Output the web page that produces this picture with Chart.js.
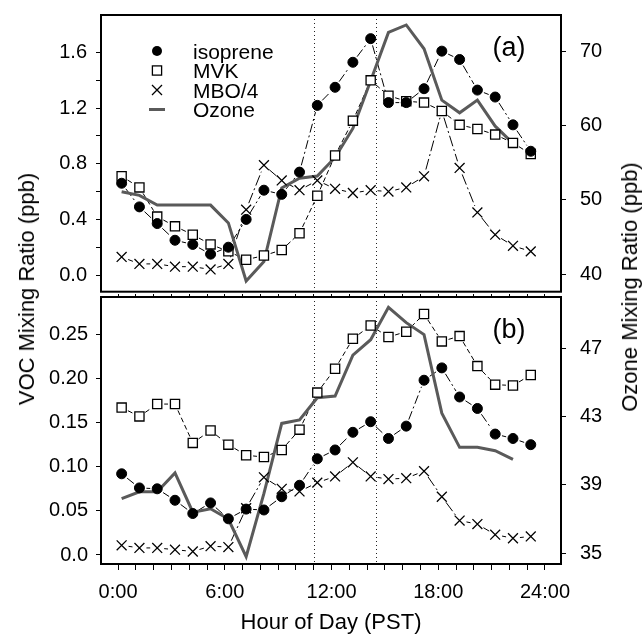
<!DOCTYPE html>
<html lang="en">
<head>
<meta charset="UTF-8" />
<title>VOC and Ozone mixing ratios by hour</title>
<script src="https://cdn.jsdelivr.net/npm/chart.js"></script>
<style>
  body { margin: 0; background: #fff; font-family: 'Liberation Sans', Arial, sans-serif; }
  #wrap { position: relative; width: 644px; height: 634px; overflow: hidden; }
  canvas { position: absolute; left: 0; }
  #chartA { top: 0; }
  #chartB { top: 287px; }
  .ytitle {
    position: absolute; font-size: 22px; color: #000; white-space: nowrap;
    transform: translate(-50%, -50%) rotate(-90deg);
  }
</style>
</head>
<body>
<div id="wrap">
  <canvas id="chartA" width="644" height="300"></canvas>
  <canvas id="chartB" width="644" height="347"></canvas>
  <div class="ytitle" style="left:27px; top:289px;">VOC Mixing Ratio (ppb)</div>
  <div class="ytitle" style="left:630px; top:287px;">Ozone Mixing Ratio (ppb)</div>
</div>

<script>
  // hour of each averaged point
  const hours = [0.2, 1.2, 2.2, 3.2, 4.2, 5.2, 6.2, 7.2, 8.2, 9.2, 10.2, 11.2,
                 12.2, 13.2, 14.2, 15.2, 16.2, 17.2, 18.2, 19.2, 20.2, 21.2, 22.2, 23.2];
  const seriesNames = ['isoprene', 'MVK', 'MBO/4', 'Ozone'];

  // panel (a)
  const isopreneA = [0.66, 0.49, 0.37, 0.25, 0.22, 0.15, 0.20, 0.40, 0.61, 0.58, 0.74, 1.22,
                     1.35, 1.53, 1.70, 1.24, 1.24, 1.34, 1.61, 1.55, 1.33, 1.28, 1.08, 0.89];
  const mvkA = [0.71, 0.63, 0.42, 0.35, 0.29, 0.22, 0.17, 0.11, 0.14, 0.18, 0.30, 0.57,
                0.86, 1.11, 1.40, 1.29, 1.25, 1.24, 1.18, 1.08, 1.05, 1.01, 0.95, 0.87];
  const mboA = [0.13, 0.08, 0.08, 0.06, 0.06, 0.04, 0.08, 0.47, 0.79, 0.68, 0.61, 0.68,
                0.62, 0.59, 0.61, 0.60, 0.63, 0.71, 1.18, 0.77, 0.45, 0.29, 0.21, 0.17];
  const ozoneA = [51.1, 50.6, 49.3, 49.3, 49.3, 49.3, 46.9, 39.1, 41.7, 51.6, 52.9, 53.2,
                  55.7, 59.6, 66.0, 72.5, 73.5, 70.3, 63.4, 61.7, 63.4, 59.9, 57.6, null];

  // panel (b)
  const isopreneB = [0.092, 0.076, 0.075, 0.062, 0.047, 0.059, 0.041, 0.052, 0.051, 0.066, 0.079, 0.109,
                     0.119, 0.139, 0.151, 0.132, 0.146, 0.198, 0.212, 0.179, 0.166, 0.137, 0.132, 0.125];
  const mvkB = [0.167, 0.157, 0.171, 0.171, 0.127, 0.141, 0.125, 0.113, 0.111, 0.119, 0.142, 0.184,
                0.211, 0.245, 0.260, 0.247, 0.253, 0.273, 0.242, 0.248, 0.214, 0.193, 0.192, 0.204];
  const mboB = [0.011, 0.008, 0.008, 0.006, 0.004, 0.010, 0.009, 0.053, 0.088, 0.075, 0.072, 0.082,
                0.089, 0.105, 0.089, 0.086, 0.087, 0.095, 0.066, 0.039, 0.035, 0.023, 0.019, 0.021];
  const ozoneB = [38.2, 38.6, 38.6, 39.7, 37.4, 37.6, 37.0, 34.8, 38.5, 42.6, 42.8, 44.1,
                  44.2, 46.6, 47.5, 49.4, 48.5, 47.8, 43.2, 41.2, 41.2, 41.0, 40.5, null];

  // axis ticks
  const hourTicks = [0, 1, 2, 3, 4, 5, 6, 7, 8, 9, 10, 11, 12, 13, 14, 15, 16, 17, 18, 19, 20, 21, 22, 23, 24];
  const vocTicksA = [0, 0.2, 0.4, 0.6, 0.8, 1.0, 1.2, 1.4, 1.6];
  const vocLabelsA = [0, 0.4, 0.8, 1.2, 1.6];
  const ozoneTicksA = [40, 50, 60, 70];
  const vocTicksB = [0, 0.05, 0.10, 0.15, 0.20, 0.25];
  const ozoneTicksB = [35, 39, 43, 47];
  const markHours = [11, 14.5];   // dotted reference lines

  Chart.defaults.font.family = "'Liberation Sans', Arial, sans-serif";
  Chart.defaults.color = '#000';

  const tickFont = { size: 20 };

  const pts = arr => hours.map((h, i) => ({ x: h, y: arr[i] }));

  function makeDatasets(iso, mvk, mbo, oz) {
    return [
      { label: seriesNames[0], data: pts(iso), yAxisID: 'yL', pointStyle: 'circle', pointRadius: 5,
        pointBackgroundColor: '#000', pointBorderColor: '#000', pointBorderWidth: 1, gapDash: [9, 3, 2, 3] },
      { label: seriesNames[1], data: pts(mvk), yAxisID: 'yL', pointStyle: 'rect', pointRadius: 6.5,
        pointBackgroundColor: '#fff', pointBorderColor: '#000', pointBorderWidth: 1.3, gapDash: [5, 3] },
      { label: seriesNames[2], data: pts(mbo), yAxisID: 'yL', pointStyle: 'crossRot', pointRadius: 7,
        pointBorderColor: '#000', pointBorderWidth: 1.3, gapDash: [11, 3, 2, 3] },
      { label: seriesNames[3], data: pts(oz), yAxisID: 'yR', showLine: true, pointRadius: 0,
        borderColor: '#5a5a5a', borderWidth: 3, spanGaps: false }
    ];
  }

  // frame, dotted marks, gapped connector lines, panel letter, legend
  const panelDeco = {
    id: 'panelDeco',
    beforeDatasetsDraw(chart) {
      const { ctx, chartArea: a, scales } = chart;
      ctx.save();
      ctx.strokeStyle = '#222';
      ctx.lineWidth = 1;
      ctx.setLineDash([1, 3]);
      markHours.forEach(h => {
        const px = Math.round(scales.x.getPixelForValue(h)) + 0.5;
        ctx.beginPath(); ctx.moveTo(px, a.top); ctx.lineTo(px, a.bottom); ctx.stroke();
      });
      ctx.strokeStyle = '#000';
      chart.data.datasets.forEach((ds, i) => {
        if (!ds.gapDash) return;
        const p = chart.getDatasetMeta(i).data;
        ctx.setLineDash(ds.gapDash);
        ctx.lineWidth = 1;
        for (let k = 1; k < p.length; k++) {
          const dx = p[k].x - p[k - 1].x, dy = p[k].y - p[k - 1].y;
          const len = Math.hypot(dx, dy), g = 7;
          if (len <= 2 * g + 3) continue;
          ctx.beginPath();
          ctx.moveTo(p[k - 1].x + dx / len * g, p[k - 1].y + dy / len * g);
          ctx.lineTo(p[k].x - dx / len * g, p[k].y - dy / len * g);
          ctx.stroke();
        }
      });
      ctx.restore();
    },
    afterDraw(chart, args, opts) {
      const { ctx, chartArea: a } = chart;
      ctx.save();
      ctx.strokeStyle = '#000';
      ctx.lineWidth = 2;
      ctx.strokeRect(a.left, a.top, a.right - a.left, a.bottom - a.top);
      ctx.fillStyle = '#000';
      ctx.font = "27px 'Liberation Sans', Arial, sans-serif";
      ctx.textAlign = 'center';
      ctx.textBaseline = 'middle';
      ctx.fillText(opts.tag, a.right - 52, a.top + 34);
      if (opts.legend) {
        const sx = a.left + 56, tx = a.left + 92;
        ctx.font = "21px 'Liberation Sans', Arial, sans-serif";
        ctx.textAlign = 'left';
        seriesNames.forEach((name, i) => {
          const y = a.top + 36 + i * 19.5;
          ctx.lineWidth = 1.3;
          ctx.strokeStyle = '#000';
          if (i === 0) { ctx.beginPath(); ctx.arc(sx, y, 5, 0, Math.PI * 2); ctx.fill(); }
          if (i === 1) { ctx.fillStyle = '#fff'; ctx.fillRect(sx - 4.6, y - 4.6, 9.2, 9.2);
                         ctx.strokeRect(sx - 4.6, y - 4.6, 9.2, 9.2); ctx.fillStyle = '#000'; }
          if (i === 2) { ctx.beginPath(); ctx.moveTo(sx - 5, y - 5); ctx.lineTo(sx + 5, y + 5);
                         ctx.moveTo(sx + 5, y - 5); ctx.lineTo(sx - 5, y + 5); ctx.stroke(); }
          if (i === 3) { ctx.strokeStyle = '#5a5a5a'; ctx.lineWidth = 3; ctx.beginPath();
                         ctx.moveTo(sx - 8, y); ctx.lineTo(sx + 8, y); ctx.stroke(); }
          ctx.fillText(name, tx, y + 2);
        });
      }
      ctx.restore();
    }
  };

  // no label overhang padding, so the plot area is set by layout only
  const noPad = s => { s.paddingTop = 0; s.paddingBottom = 0; s.paddingLeft = 0; s.paddingRight = 0; };

  function yAxis(pos, min, max, ticks, fmt, width, pad) {
    return {
      position: pos, min: min, max: max,
      afterBuildTicks: s => { s.ticks = ticks.map(v => ({ value: v })); },
      ticks: { callback: fmt, font: tickFont, color: '#000', padding: pad, autoSkip: false },
      grid: { drawOnChartArea: false, tickLength: 5, tickColor: '#000', tickWidth: 1 },
      border: { display: false },
      afterFit: s => { s.width = width; noPad(s); }
    };
  }

  const xRange = { type: 'linear', min: -0.96, max: 24.9 };

  const chartA = new Chart(document.getElementById('chartA'), {
    type: 'scatter',
    data: { datasets: makeDatasets(isopreneA, mvkA, mboA, ozoneA) },
    options: {
      responsive: false, animation: false, devicePixelRatio: 1,
      layout: { padding: { top: 15, bottom: 3, left: 0, right: 0 } },
      plugins: { legend: { display: false }, tooltip: { enabled: false },
                 panelDeco: { tag: '(a)', legend: true } },
      scales: {
        x: Object.assign({}, xRange, { display: false }),
        yL: yAxis('left', -0.12, 1.87, vocTicksA,
                  v => vocLabelsA.includes(v) ? v.toFixed(1) : '', 101, 9),
        yR: yAxis('right', 37.66, 74.84, ozoneTicksA, v => String(v), 83, 14)
      }
    },
    plugins: [panelDeco]
  });

  const chartB = new Chart(document.getElementById('chartB'), {
    type: 'scatter',
    data: { datasets: makeDatasets(isopreneB, mvkB, mboB, ozoneB) },
    options: {
      responsive: false, animation: false, devicePixelRatio: 1,
      layout: { padding: 0 },
      plugins: { legend: { display: false }, tooltip: { enabled: false },
                 panelDeco: { tag: '(b)', legend: false } },
      scales: {
        x: Object.assign({}, xRange, {
          position: 'bottom',
          afterBuildTicks: s => { s.ticks = hourTicks.map(v => ({ value: v })); },
          ticks: { callback: v => v % 6 === 0 ? v + ':00' : '', maxRotation: 0, autoSkip: false,
                   font: tickFont, color: '#000', padding: 10 },
          grid: { drawOnChartArea: false, tickLength: 6, tickColor: '#000' },
          border: { display: false },
          title: { display: true, text: 'Hour of Day (PST)', font: { size: 22 }, color: '#000',
                   padding: { top: 0, bottom: -2 } },
          afterFit: s => { s.height = 70; noPad(s); }
        }),
        xTop: Object.assign({}, xRange, {
          position: 'top',
          afterBuildTicks: s => { s.ticks = hourTicks.map(v => ({ value: v })); },
          ticks: { display: false },
          grid: { drawOnChartArea: false, tickLength: 3, tickColor: '#000' },
          border: { display: false },
          afterFit: s => { s.height = 10; noPad(s); }
        }),
        yL: yAxis('left', -0.0102, 0.2923, vocTicksB,
                  v => v === 0 ? '0.0' : v.toFixed(2), 101, 8),
        yR: yAxis('right', 34.37, 50.0, ozoneTicksB, v => String(v), 83, 14)
      }
    },
    plugins: [panelDeco]
  });
</script>
</body>
</html>
